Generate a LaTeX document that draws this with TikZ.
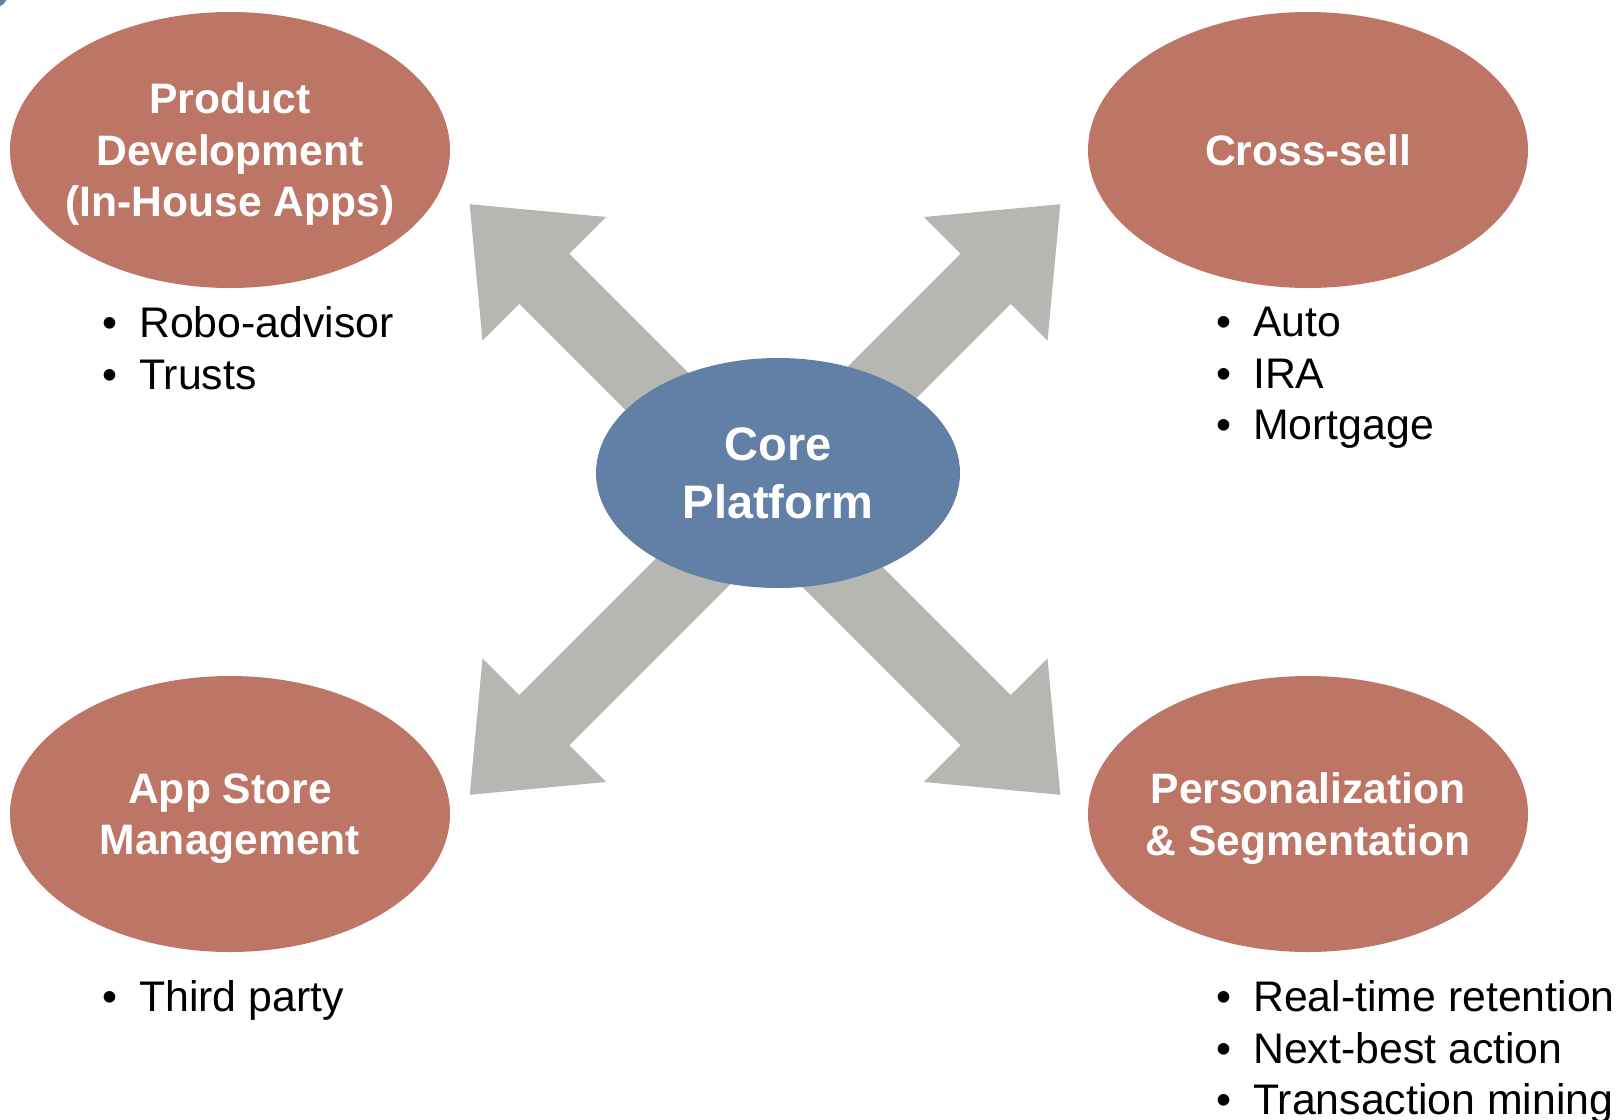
\documentclass[tikz,border=0pt]{standalone}
\usepackage{fontspec}
\setmainfont{Liberation Sans}
\usetikzlibrary{shapes.geometric}
\definecolor{brick}{RGB}{189,117,102}
\definecolor{steel}{RGB}{98,128,166}
\definecolor{stone}{RGB}{182,183,178}
\newcommand{\itm}{\makebox[37pt][l]{\textbullet}}

\begin{document}
\begin{tikzpicture}[x=1pt,y=-1pt]
	\tikzstyle{goal} = [ellipse,fill=brick,text=white,inner xsep=-80pt,inner ysep=0pt,text depth=0pt,minimum width=440pt,minimum height=276pt,align=center,font=\fontsize{42.6}{51.5}\selectfont\bfseries]
	\tikzstyle{hub} = [ellipse,fill=steel,text=white,inner sep=0pt,minimum width=364pt,minimum height=230pt,align=center,font=\fontsize{47}{57.7}\selectfont\bfseries]
	\tikzstyle{items} = [anchor=west,align=left,inner sep=0pt,font=\fontsize{42.8}{51.5}\selectfont]
	\tikzstyle{bigarrow} = [fill=stone]

	\useasboundingbox (0,0) rectangle (1616,1119);
	\fill[steel] (-4,-4) circle (11);

	\foreach \a in {45,-45}
		\fill[bigarrow,shift={(765,499.5)},rotate=\a] (-417.6,0) -- (-312.1,87.4) -- (-312.1,35.4) -- (312.1,35.4) -- (312.1,87.4) -- (417.6,0) -- (312.1,-87.4) -- (312.1,-35.4) -- (-312.1,-35.4) -- (-312.1,-87.4) -- cycle;

	\node[goal] (prod) at (230,150) {Product\\Development\\(In-House Apps)};
	\node[goal] (cross) at (1308,150) {Cross-sell};
	\node[goal] (store) at (230,814) {App Store\\Management};
	\node[goal] (pers) at (1308,814) {Personalization\\\& Segmentation};
	\node[hub] (core) at (778,473) {Core\\Platform};

	\node[items] (prodlist) at (102,348) {\itm Robo-advisor\\\itm Trusts};
	\node[items] (crosslist) at (1216,378.2) {\itm Auto\\\itm IRA\\\itm Mortgage};
	\node[items] (storelist) at (102,1000.7) {\itm Third party};
	\node[items] (perslist) at (1216,1052.2) {\itm Real-time retention\\\itm Next-best action\\\itm Transaction mining};
\end{tikzpicture}
\end{document}
